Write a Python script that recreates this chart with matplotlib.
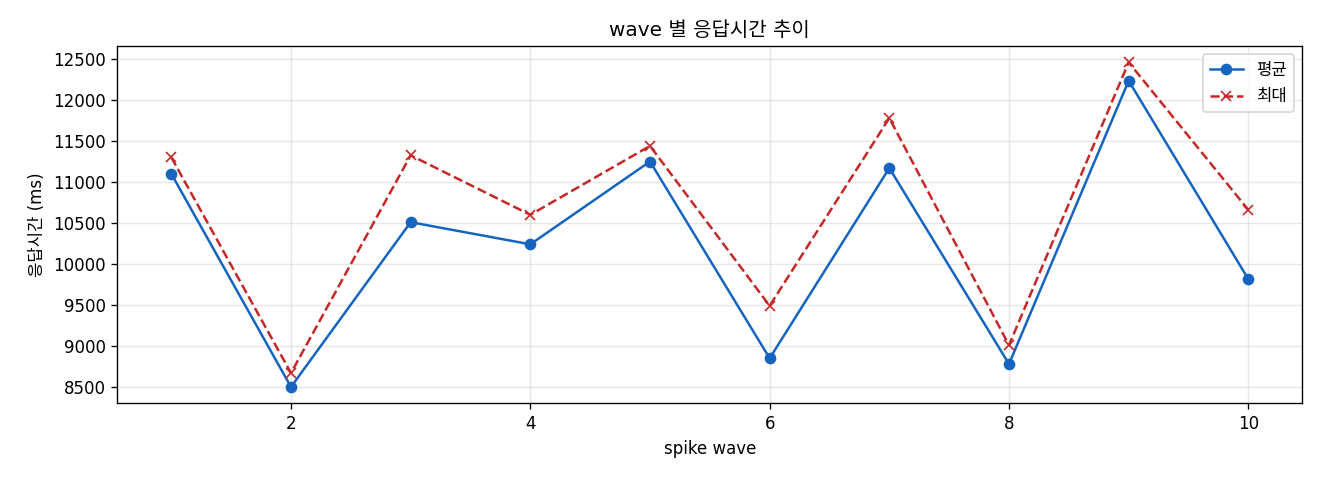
import matplotlib
matplotlib.use("Agg")
import matplotlib.pyplot as plt

plt.rcParams['font.family'] = ['DejaVu Sans', 'Noto Sans CJK KR']
plt.rcParams['axes.unicode_minus'] = False

# spike wave별 응답시간 (ms)
waves = [1, 2, 3, 4, 5, 6, 7, 8, 9, 10]
avg_ms = [11100, 8500, 10510, 10240, 11250, 8850, 11170, 8780, 12235, 9815]
max_ms = [11300, 8670, 11325, 10600, 11440, 9490, 11780, 9010, 12460, 10660]

fig, ax = plt.subplots(figsize=(11, 4), dpi=120)
ax.plot(waves, avg_ms, marker='o', color='#1565C0', label='평균')
ax.plot(waves, max_ms, marker='x', linestyle='--', color='#C62828', label='최대')
ax.set_title('wave 별 응답시간 추이')
ax.set_xlabel('spike wave')
ax.set_ylabel('응답시간 (ms)')
ax.grid(True, alpha=0.3)
ax.legend(loc='upper right')
fig.subplots_adjust(left=0.089, right=0.9865, top=0.904, bottom=0.16)
fig.savefig('out.png')
